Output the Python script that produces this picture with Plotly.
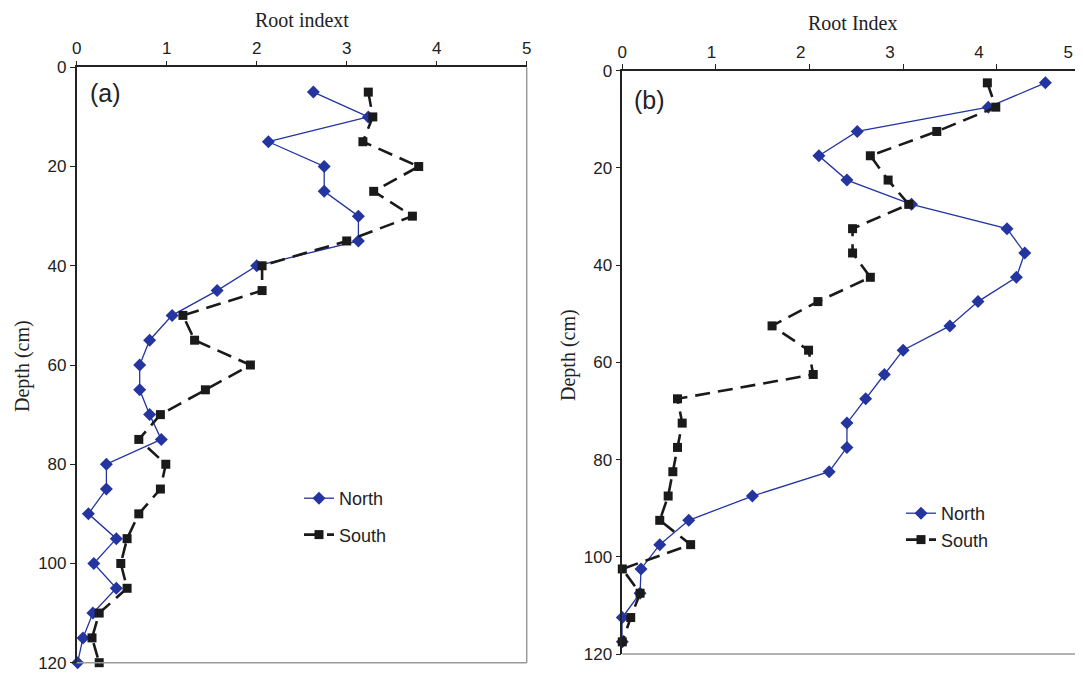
import plotly.graph_objects as go

# ---------------- data ----------------
depth_a = [5, 10, 15, 20, 25, 30, 35, 40, 45, 50, 55, 60, 65, 70, 75, 80,
           85, 90, 95, 100, 105, 110, 115, 120]
north_a = [2.63, 3.24, 2.13, 2.75, 2.75, 3.13, 3.13, 2.00, 1.56, 1.06, 0.81, 0.70,
           0.70, 0.81, 0.94, 0.33, 0.33, 0.13, 0.44, 0.19, 0.44, 0.18, 0.07, 0.01]
south_a = [3.24, 3.29, 3.18, 3.80, 3.30, 3.73, 3.00, 2.06, 2.06, 1.18, 1.31, 1.93,
           1.43, 0.93, 0.69, 0.99, 0.93, 0.69, 0.56, 0.49, 0.56, 0.25, 0.17, 0.25]

depth_b = [2.5, 7.5, 12.5, 17.5, 22.5, 27.5, 32.5, 37.5, 42.5, 47.5, 52.5, 57.5,
           62.5, 67.5, 72.5, 77.5, 82.5, 87.5, 92.5, 97.5, 102.5, 107.5, 112.5, 117.5]
north_b = [4.52, 3.91, 2.51, 2.10, 2.40, 3.09, 4.11, 4.30, 4.21, 3.80, 3.50, 3.00,
           2.80, 2.60, 2.40, 2.40, 2.21, 1.39, 0.71, 0.40, 0.20, 0.19, 0.00, 0.00]
south_b = [3.90, 3.99, 3.36, 2.65, 2.84, 3.06, 2.46, 2.46, 2.65, 2.09, 1.60, 1.99,
           2.04, 0.59, 0.64, 0.59, 0.54, 0.49, 0.40, 0.73, 0.00, 0.19, 0.09, 0.00]

x_ticks = [0, 1, 2, 3, 4, 5]
y_ticks = [0, 20, 40, 60, 80, 100, 120]

BLUE = "#2435a0"
BLACK = "#1a1a1a"
SANS = "Liberation Sans, Arial, sans-serif"
SERIF = "Liberation Serif, Times New Roman, serif"
OFF = 8                      # page body margin of the browser
SW, SH = 1083, 674           # screen size
W, H = SW - OFF, SH - OFF    # figure size

fig = go.Figure()

def north(x, y, xa, ya, leg):
    return go.Scatter(x=x, y=y, xaxis=xa, yaxis=ya, name="North", legend=leg,
                      legendgroup=leg + "n", mode="lines+markers",
                      line=dict(color=BLUE, width=1.3),
                      marker=dict(symbol="diamond", size=10, color=BLUE),
                      cliponaxis=False, hoverinfo="skip")

def south(x, y, xa, ya, leg):
    return go.Scatter(x=x, y=y, xaxis=xa, yaxis=ya, name="South", legend=leg,
                      legendgroup=leg + "s", mode="lines+markers",
                      line=dict(color=BLACK, width=2.6, dash="15px,8px"),
                      marker=dict(symbol="square", size=9, color=BLACK),
                      cliponaxis=False, hoverinfo="skip")

fig.add_trace(north(north_a, depth_a, "x", "y", "legend"))
fig.add_trace(south(south_a, depth_a, "x", "y", "legend"))
fig.add_trace(north(north_b, depth_b, "x2", "y2", "legend2"))
fig.add_trace(south(south_b, depth_b, "x2", "y2", "legend2"))
# empty trace so the label-only axis of panel (b) is drawn
fig.add_trace(go.Scatter(x=[], y=[], xaxis="x3", yaxis="y2", showlegend=False,
                         hoverinfo="skip"))

def px_x(p):
    return (p - OFF) / W

def px_y(p):
    return 1 - (p - OFF) / H

axis_common = dict(showgrid=False, zeroline=False, showline=True, automargin=False,
                   linecolor="#222", linewidth=1.6, ticks="outside",
                   ticklen=5, tickwidth=1.4, tickcolor="#222",
                   tickfont=dict(family=SANS, size=17, color="#222"))

xa_dom = [px_x(76.7), px_x(526.7)]
ya_dom = [px_y(662.7), px_y(67.3)]
xb_dom = [px_x(622.3), 1.0]
yb_dom = [px_y(654.0), px_y(70.7)]

fig.update_layout(
    width=W, height=H,
    margin=dict(l=0, r=0, t=0, b=0, autoexpand=False),
    paper_bgcolor="white", plot_bgcolor="white",
    xaxis=dict(domain=xa_dom, range=[0, 5], side="top", anchor="y",
               tickvals=x_ticks, **axis_common),
    yaxis=dict(domain=ya_dom, range=[120, 0], anchor="x",
               tickvals=y_ticks, **axis_common),
    xaxis2=dict(domain=xb_dom, range=[0, (SW - 622.3) / 93.6], side="top",
                anchor="y2", tickvals=x_ticks, showticklabels=False,
                **axis_common),
    xaxis3=dict(domain=xb_dom, range=[0, (SW - 622.3) / 89.2], side="top",
                anchor="y2", overlaying="x2", tickvals=x_ticks, automargin=False,
                showgrid=False, zeroline=False, showline=False,
                ticks="outside", ticklen=5, tickcolor="rgba(0,0,0,0)",
                tickfont=dict(family=SANS, size=17, color="#222")),
    yaxis2=dict(domain=yb_dom, range=[120, 0], anchor="x2",
                tickvals=y_ticks, **axis_common),
    legend=dict(x=px_x(299), y=px_y(480), xanchor="left", yanchor="top",
                bgcolor="rgba(0,0,0,0)", borderwidth=0,
                traceorder="grouped", tracegroupgap=10,
                font=dict(family=SANS, size=18, color="#222")),
    legend2=dict(x=px_x(901), y=px_y(495), xanchor="left", yanchor="top",
                 bgcolor="rgba(0,0,0,0)", borderwidth=0,
                 traceorder="grouped", tracegroupgap=0,
                 font=dict(family=SANS, size=18, color="#222")),
    showlegend=True,
)

# gray frame parts
GRAY = "#9a9a9a"
fig.add_shape(type="line", xref="x domain", yref="y domain", x0=0, x1=1, y0=0, y1=0,
              line=dict(color=GRAY, width=1.5))
fig.add_shape(type="line", xref="x domain", yref="y domain", x0=1, x1=1, y0=0, y1=1,
              line=dict(color=GRAY, width=1.5))
fig.add_shape(type="line", xref="x2 domain", yref="y2 domain", x0=0, x1=1, y0=0, y1=0,
              line=dict(color=GRAY, width=1.5))

annotations = [
    dict(text="Root indext", x=px_x(301.7), y=px_y(20), font=dict(family=SERIF, size=20)),
    dict(text="Root Index", x=px_x(852), y=px_y(23), font=dict(family=SERIF, size=20)),
    dict(text="Depth (cm)", x=px_x(22), y=px_y(366), textangle=-90,
         font=dict(family=SERIF, size=20)),
    dict(text="Depth (cm)", x=px_x(568), y=px_y(355), textangle=-90,
         font=dict(family=SERIF, size=20)),
    dict(text="(a)", x=px_x(106), y=px_y(93), font=dict(family=SANS, size=25)),
    dict(text="(b)", x=px_x(649), y=px_y(100), font=dict(family=SANS, size=25)),
]
for a in annotations:
    a.update(xref="paper", yref="paper", showarrow=False, xanchor="center",
             yanchor="middle")
    a["font"]["color"] = "#222"
    fig.add_annotation(**a)

fig.write_html("out.html")
